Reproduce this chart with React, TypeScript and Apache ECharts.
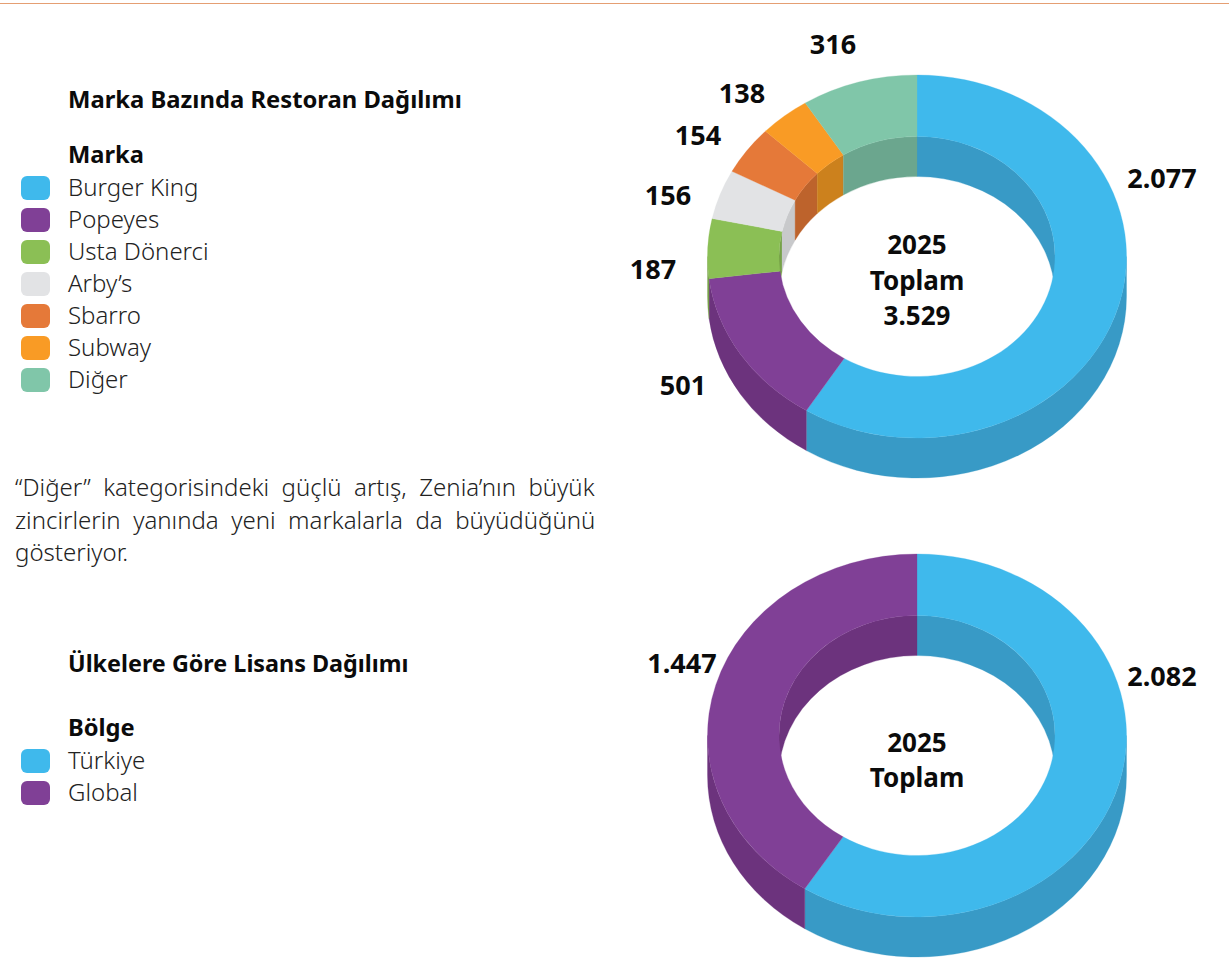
import React, { useEffect, useRef } from "react";
import * as echarts from "echarts";

const brandNames = ["Burger King", "Popeyes", "Usta Dönerci", "Arby’s", "Sbarro", "Subway", "Diğer"];
const brandValues = [2077, 501, 187, 156, 154, 138, 316];
const brandColors = ["#3FB9EC", "#804096", "#8BBF55", "#E2E3E5", "#E57939", "#F99B25", "#80C6A9"];
const brandWalls = ["#389AC6", "#6C337D", "#76A148", "#C8C9CB", "#BD632C", "#CC811D", "#6BA68E"];
const brandLabelPos = [[1162, 177], [683, 384], [653, 268], [668, 194], [698, 134], [742, 92], [833, 43]];

const regionNames = ["Türkiye", "Global"];
const regionValues = [2082, 1447];
const regionColors = ["#3FB9EC", "#804096"];
const regionWalls = ["#389AC6", "#6C337D"];
const regionLabelPos = [[1162, 675], [682, 662]];

const paragraphLines = [
  "“Diğer”  kategorisindeki  güçlü  artış,  Zenia’nın  büyük",
  "zincirlerin  yanında  yeni  markalarla  da  büyüdüğünü",
  "gösteriyor.",
];

const FONT = "'Noto Sans', sans-serif";
const fmt = (v: number) => String(v).replace(/\B(?=(\d{3})+$)/g, ".");

const RX = 209.5, RY = 181.5, IRX = 138, IRY = 120, DEPTH = 40, CX = 917;

function arcPt(rx: number, ry: number, cy: number, deg: number, dy = 0) {
  const t = (deg * Math.PI) / 180;
  return [CX + rx * Math.sin(t), cy - ry * Math.cos(t) + dy];
}
function surface(cy: number, a: number, b: number) {
  const l = b - a > 180 ? 1 : 0;
  const p1 = arcPt(RX, RY, cy, a), p2 = arcPt(RX, RY, cy, b);
  const p3 = arcPt(IRX, IRY, cy, b), p4 = arcPt(IRX, IRY, cy, a);
  return `M${p1[0]} ${p1[1]}A${RX} ${RY} 0 ${l} 1 ${p2[0]} ${p2[1]}L${p3[0]} ${p3[1]}A${IRX} ${IRY} 0 ${l} 0 ${p4[0]} ${p4[1]}Z`;
}
function wall(cy: number, rx: number, ry: number, a: number, b: number) {
  const l = b - a > 180 ? 1 : 0;
  const p1 = arcPt(rx, ry, cy, a), p2 = arcPt(rx, ry, cy, b);
  const p3 = arcPt(rx, ry, cy, b, DEPTH), p4 = arcPt(rx, ry, cy, a, DEPTH);
  return `M${p1[0]} ${p1[1]}A${rx} ${ry} 0 ${l} 1 ${p2[0]} ${p2[1]}L${p3[0]} ${p3[1]}A${rx} ${ry} 0 ${l} 0 ${p4[0]} ${p4[1]}Z`;
}
function clip(a: number, b: number, lo: number, hi: number) {
  const s = Math.max(a, lo), e = Math.min(b, hi);
  return e > s ? [s, e] : null;
}

function donutSeries(names: string[], values: number[], colors: string[], walls: string[], labelPos: number[][], cy: number) {
  const total = values.reduce((s, v) => s + v, 0);
  let acc = 0;
  return names.map((name, i) => {
    const startShare = acc / total;
    acc += values[i];
    const endShare = acc / total;
    return {
      type: "custom",
      name,
      coordinateSystem: "none",
      silent: true,
      itemStyle: { color: colors[i] },
      data: [[startShare, endShare, values[i]]],
      renderItem: (_: any, api: any) => {
        const a = api.value(0) * 360, b = api.value(1) * 360;
        const children: any[] = [];
        const addWall = (rx: number, ry: number, r: number[] | null) => {
          if (r) children.push({ type: "path", z2: 1, shape: { pathData: wall(cy, rx, ry, r[0], r[1]) }, style: { fill: walls[i], stroke: walls[i], lineWidth: 0.3 } });
        };
        addWall(IRX, IRY, clip(a, b, 0, 90));
        addWall(IRX, IRY, clip(a, b, 270, 360));
        addWall(RX, RY, clip(a, b, 90, 270));
        children.push({ type: "path", z2: 5, shape: { pathData: surface(cy, a, b) }, style: { fill: colors[i], stroke: colors[i], lineWidth: 0.3 } });
        children.push({
          type: "text", z2: 10,
          style: { text: fmt(api.value(2)), x: labelPos[i][0], y: labelPos[i][1], align: "center", verticalAlign: "middle", fill: "#0b0b0b", font: `700 27px ${FONT}` },
        });
        return { type: "group", children };
      },
    };
  });
}

const headText = (text: string, x: number, y: number, size = 23.7, align = "left") => ({
  type: "text", z: 20, x, y,
  style: { text, fill: "#0b0b0b", font: `700 ${size}px ${FONT}`, align, verticalAlign: "middle" },
});

export default function App() {
  const ref = useRef<HTMLDivElement>(null);
  useEffect(() => {
    document.body.style.margin = "0";
    const chart = echarts.init(ref.current!, null, { renderer: "svg" });
    const legendText = { color: "#222", fontFamily: FONT, fontWeight: 300, fontSize: 24 };
    const legendBase = {
      orient: "vertical", left: 21, padding: 0, icon: "roundRect", itemWidth: 29, itemHeight: 24, itemGap: 6,
      selectedMode: false,
      formatter: "{t|{name}}",
      textStyle: { ...legendText, rich: { t: { ...legendText, padding: [0, 0, 4, 13] } } },
    };
    const brandTotal = brandValues.reduce((s, v) => s + v, 0);
    chart.setOption({
      animation: false,
      backgroundColor: "#fff",
      legend: [
        { ...legendBase, top: 174, data: brandNames },
        { ...legendBase, top: 747, data: regionNames },
      ],
      series: [
        ...donutSeries(brandNames, brandValues, brandColors, brandWalls, brandLabelPos, 256.5),
        ...donutSeries(regionNames, regionValues, regionColors, regionWalls, regionLabelPos, 735.5),
      ],
      graphic: [
        { type: "line", shape: { x1: 0, y1: 3.5, x2: 1229, y2: 3.5 }, style: { stroke: "#E59F73", lineWidth: 1 } },
        headText("Marka Bazında Restoran Dağılımı", 68, 99, 23.8),
        headText("Marka", 68, 154),
        headText("Ülkelere Göre Lisans Dağılımı", 68, 663, 23.35),
        headText("Bölge", 68, 727),
        headText("2025", 917, 244, 26, "center"),
        headText("Toplam", 917, 280, 26, "center"),
        headText(fmt(brandTotal), 917, 315, 26, "center"),
        headText("2025", 917, 742, 26, "center"),
        headText("Toplam", 917, 777, 26, "center"),
        ...paragraphLines.map((line, i) => ({
          type: "text", x: 15, y: [486, 519, 551][i],
          style: { text: line, fill: "#222", font: `300 24px ${FONT}`, verticalAlign: "middle" },
        })),
      ],
    });
    return () => chart.dispose();
  }, []);
  return <div ref={ref} style={{ position: "absolute", left: 0, top: 0, width: 1229, height: 980 }} />;
}
